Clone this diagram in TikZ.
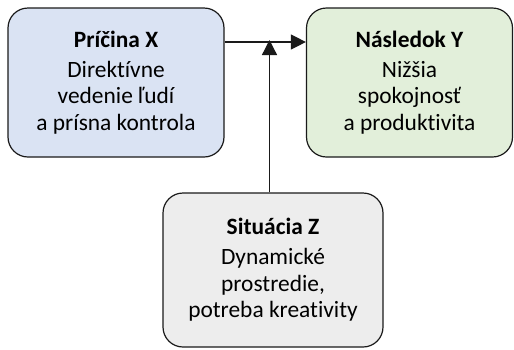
\documentclass[tikz,border=0pt]{standalone}
\usepackage{fontspec}
\setmainfont{Carlito}[Ligatures=NoCommon]
\usetikzlibrary{arrows.meta}
\definecolor{causefill}{HTML}{DAE3F3}
\definecolor{effectfill}{HTML}{E2EFDA}
\definecolor{situfill}{HTML}{EDEDED}
\definecolor{edge}{HTML}{1A1A1A}
% bold heading line of a box, followed by a slightly wider gap
\newcommand{\boxtitle}[1]{{\bfseries #1}\\[3.5pt]}
\begin{document}
\begin{tikzpicture}[x=1pt,y=-1pt,
  box/.style={draw=edge, line width=1.2pt, rounded corners=20pt, align=center,
    inner sep=0pt, font=\fontsize{23.4}{26.5}\selectfont},
  link/.style={draw=edge, line width=1.3pt, -{Triangle[length=15pt,width=15pt]}}]
\useasboundingbox (0,0) rectangle (514,349);
\node[box, fill=causefill, minimum width=216pt, minimum height=149pt] (cause) at (116,82.5)
  {\boxtitle{Príčina X}Direktívne\\vedenie ľudí\\a prísna kontrola};
\node[box, fill=effectfill, minimum width=206pt, minimum height=149pt] (effect) at (409.5,82.5)
  {\boxtitle{Následok Y}Nižšia\\spokojnosť\\a produktivita};
\node[box, fill=situfill, minimum width=220pt, minimum height=154pt] (situation) at (273,270)
  {\boxtitle{Situácia Z}Dynamické\\prostredie,\\potreba kreativity};
% level of the main connector and the point where the moderator meets it
\coordinate (level) at (0,42);
\coordinate (join) at (269.5,42);
\draw[link] (cause.east |- level) -- (effect.west |- level);
\draw[link] (situation.north -| join) -- ([yshift=2pt]join);
\end{tikzpicture}
\end{document}
